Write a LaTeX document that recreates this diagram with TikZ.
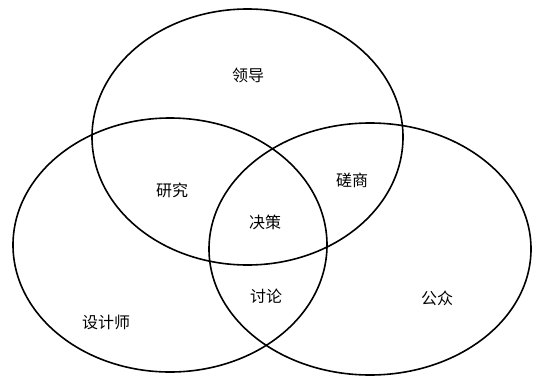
\documentclass[tikz,border=0pt]{standalone}
\usepackage{fontspec}
\newfontfamily\cjk{Noto Sans CJK SC}
\usepackage{tikz}

\tikzset{
  ring/.style={draw=black,line width=1.6pt},
  lbl/.style={font=\cjk\fontsize{16}{19}\selectfont,inner sep=0pt}
}

\begin{document}
\begin{tikzpicture}[x=1pt,y=-1pt]
    \useasboundingbox (0,0) rectangle (538,378);

    % --- three rings
    \draw[ring] (247.5,137) ellipse [x radius=155.5,y radius=128];
    \draw[ring] (170,245) ellipse [x radius=157,y radius=127];
    \draw[ring] (370,249) ellipse [x radius=161,y radius=126];

    % --- labels
    \node[lbl] (lead) at (248,75) {领导};
    \node[lbl] (study) at (172,190) {研究};
    \node[lbl] (consult) at (352,180) {磋商};
    \node[lbl] (decide) at (265,222) {决策};
    \node[lbl] (discuss) at (266,296) {讨论};
    \node[lbl] (designer) at (106,322) {设计师};
    \node[lbl] (public) at (437,298) {公众};
  \end{tikzpicture}
\end{document}
